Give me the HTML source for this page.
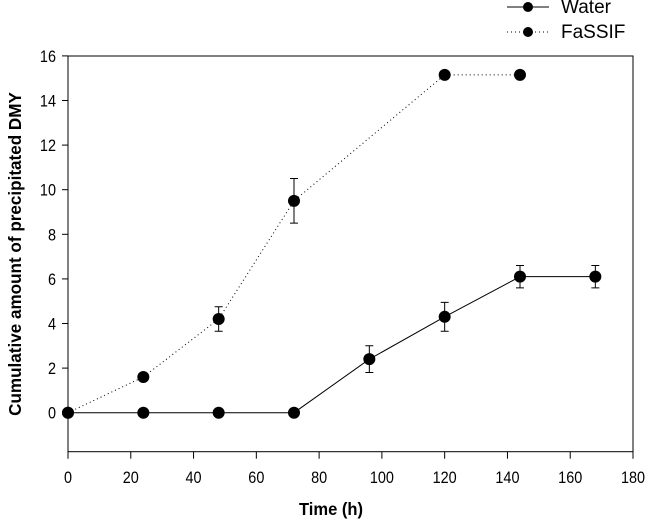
<!DOCTYPE html>
<html><head><meta charset="utf-8"><style>
html,body{margin:0;padding:0;background:#fff;}
svg{display:block;font-family:"Liberation Sans",Arial,sans-serif;}
</style></head><body>
<svg id="chart" width="652" height="522" viewBox="0 0 652 522" xmlns="http://www.w3.org/2000/svg">
<g id="axes"></g>
<g id="series"></g>
<text x="331" y="515" text-anchor="middle" font-size="18" font-weight="bold" transform="translate(331,0) scale(0.92,1) translate(-331,0)">Time (h)</text>
<text transform="translate(21,254) rotate(-90) scale(0.95,1)" text-anchor="middle" font-size="18" font-weight="bold">Cumulative amount of precipitated DMY</text>
<g>
<g>
<line x1="507" y1="7" x2="549" y2="7" stroke="#000" stroke-width="1"/>
<circle cx="528" cy="7" r="5" fill="#000"/>
<text x="561" y="13" font-size="19">Water</text></g>
<g>
<line x1="507" y1="32" x2="549" y2="32" stroke="#000" stroke-width="1" stroke-dasharray="1,3"/>
<circle cx="528" cy="32" r="5" fill="#000"/>
<text x="561" y="38" font-size="19">FaSSIF</text></g>
</g>
</svg>
<script>
const waterTimes=[0,24,48,72,96,120,144,168];
const waterValues=[0,0,0,0,2.4,4.3,6.1,6.1];
const waterErrors=[0,0,0,0,0.6,0.65,0.5,0.5];
const fassifTimes=[0,24,48,72,120,144];
const fassifValues=[0,1.6,4.2,9.5,15.15,15.15];
const fassifErrors=[0,0,0.55,1.0,0,0];
const xTicks=[0,20,40,60,80,100,120,140,160,180];
const yTicks=[0,2,4,6,8,10,12,14,16];
const NS="http://www.w3.org/2000/svg";
const X0=68,X1=633,Y0=412.7,YPER=22.3;
function sx(v){return X0+(X1-X0)*v/180;}
function sy(v){return Y0-v*YPER;}
const yBottom=451.7,yTop=56;
function mk(tag,attrs,parent){const e=document.createElementNS(NS,tag);for(const k in attrs)e.setAttribute(k,attrs[k]);parent.appendChild(e);return e;}
const axes=document.getElementById('axes');
const frame=mk('rect',{x:X0,y:yTop,width:X1-X0,height:yBottom-yTop,fill:'none',stroke:'#000','stroke-width':1},axes);


xTicks.forEach(t=>{
  const l=mk('line',{x1:sx(t),x2:sx(t),y1:yBottom,y2:yBottom+7,stroke:'#000'},axes);
  
  
  const tx=mk('text',{x:0,y:0,'text-anchor':'middle','font-size':17,transform:`translate(${sx(t)},483) scale(0.85,1)`},axes);
  tx.textContent=t;
  
  
});
yTicks.forEach(t=>{
  const l=mk('line',{x1:X0-6,x2:X0,y1:sy(t),y2:sy(t),stroke:'#000'},axes);
  
  
  const tx=mk('text',{x:0,y:0,'text-anchor':'end','font-size':17,transform:`translate(56,${sy(t)+6}) scale(0.85,1)`},axes);
  tx.textContent=t;
  
  
});
const series=document.getElementById('series');
function draw(times,vals,errs,dash,name){
  const g=mk('g',{},series);
  
  
  const pl=mk('polyline',{points:times.map((t,i)=>sx(t)+','+sy(vals[i])).join(' '),fill:'none',stroke:'#000','stroke-width':1,'stroke-dasharray':dash},g);
  
  
  times.forEach((t,i)=>{
    if(errs[i]>0){
      const x=sx(t),a=sy(vals[i]+errs[i]),b=sy(vals[i]-errs[i]);
      const e=mk('path',{d:`M${x},${a}V${b}M${x-4},${a}H${x+4}M${x-4},${b}H${x+4}`,stroke:'#000',fill:'none'},g);
      
      
    }
    const c=mk('circle',{cx:sx(t),cy:sy(vals[i]),r:6,fill:'#000'},g);
    
    
  });
}
draw(fassifTimes,fassifValues,fassifErrors,'1,3','fassif');
draw(waterTimes,waterValues,waterErrors,'none','water');
</script>
</body></html>
